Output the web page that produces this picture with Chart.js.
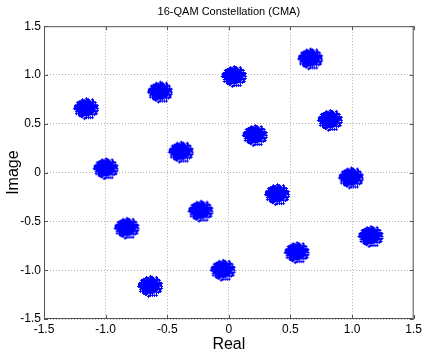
<!DOCTYPE html>
<html>
<head>
<meta charset="utf-8">
<script src="https://cdn.jsdelivr.net/npm/chart.js@4.4.1/dist/chart.umd.min.js"></script>
<style>
  html, body { margin: 0; padding: 0; background: #fff; }
  #wrap { position: relative; width: 425px; height: 355px; }
</style>
</head>
<body>
<div id="wrap"><canvas id="qam"></canvas></div>
<script>
// cluster centres
const realValues = [0.66, 0.04, -0.56, -1.16, 0.82, 0.21, -0.39, -1.00,
                    0.99, 0.39, -0.23, -0.83, 1.15, 0.55, -0.05, -0.64];
const imagValues = [1.17, 0.99, 0.83, 0.66, 0.54, 0.385, 0.215, 0.045,
                    -0.05, -0.22, -0.39, -0.565, -0.65, -0.815, -0.995, -1.16];
const tickValues = [-1.5, -1, -0.5, 0, 0.5, 1, 1.5];

const BLUE = "#0000ff";
const FONT = "'Liberation Sans', Arial, sans-serif";

// marker: a dense blob of "+" marks with a ragged rim
function makeBlob() {
  const c = document.createElement("canvas");
  c.width = 30; c.height = 26;
  const g = c.getContext("2d");
  g.fillStyle = BLUE;
  g.beginPath();
  g.ellipse(15, 13, 10, 8.5, 0, 0, Math.PI * 2);
  g.fill();
  g.strokeStyle = BLUE;
  g.lineWidth = 1;
  const rim = [1.05, 1.15, 1.0, 1.2, 1.1, 0.98, 1.25, 1.08, 1.12, 1.0, 1.18, 1.04];
  for (let k = 0; k < 36; k++) {
    const t = k / 36 * Math.PI * 2;
    const m = rim[k % rim.length];
    const x = Math.round(15 + Math.cos(t) * 10 * m);
    const y = Math.round(13 + Math.sin(t) * 8.5 * m);
    g.beginPath();
    g.moveTo(x - 1, y + 0.5); g.lineTo(x + 2, y + 0.5);
    g.moveTo(x + 0.5, y - 1); g.lineTo(x + 0.5, y + 2);
    g.stroke();
  }
  return c;
}
const blob = makeBlob();

// small inward tick marks on all four sides, like the original axes box
const innerTicks = {
  id: "innerTicks",
  afterDraw(chart) {
    const { ctx, chartArea: a, scales } = chart;
    ctx.save();
    ctx.strokeStyle = "#555";
    ctx.lineWidth = 1;
    ctx.beginPath();
    tickValues.forEach(v => {
      const x = Math.round(scales.x.getPixelForValue(v)) + 0.5;
      ctx.moveTo(x, a.bottom); ctx.lineTo(x, a.bottom - 4);
      ctx.moveTo(x, a.top); ctx.lineTo(x, a.top + 4);
      const y = Math.round(scales.y.getPixelForValue(v)) + 0.5;
      ctx.moveTo(a.left, y); ctx.lineTo(a.left + 4, y);
      ctx.moveTo(a.right, y); ctx.lineTo(a.right - 4, y);
    });
    ctx.stroke();
    ctx.strokeRect(a.left + 0.5, a.top + 0.5, a.right - a.left - 1, a.bottom - a.top - 1);
    ctx.restore();
  }
};

const gridStyle = {
  color: "#b0b0b0",
  lineWidth: 1,
  drawTicks: false
};

new Chart(document.getElementById("qam"), {
  type: "scatter",
  data: {
    datasets: [{
      data: realValues.map((x, i) => ({ x: x, y: imagValues[i] })),
      pointStyle: blob,
      backgroundColor: BLUE,
      borderColor: BLUE
    }]
  },
  options: {
    responsive: true,
    maintainAspectRatio: false,
    animation: false,
    layout: { padding: { left: 0, right: 8, top: 0, bottom: 0 } },
    plugins: {
      legend: { display: false },
      tooltip: { enabled: false },
      title: {
        display: true,
        text: "16-QAM Constellation (CMA)",
        fullSize: false,
        color: "#000",
        font: { family: FONT, size: 11, weight: "normal" },
        padding: { top: 5, bottom: 8 }
      }
    },
    scales: {
      x: {
        type: "linear",
        min: -1.5, max: 1.5,
        afterBuildTicks: s => { s.ticks = tickValues.map(v => ({ value: v })); },
        afterFit: s => { s.height = 36; },
        ticks: {
          color: "#000",
          font: { family: FONT, size: 12 },
          padding: 3,
          maxRotation: 0,
          autoSkip: false
        },
        grid: gridStyle,
        border: { display: false, dash: [1, 2] },
        title: {
          display: true,
          text: "Real",
          color: "#000",
          font: { family: FONT, size: 16 },
          padding: { top: 0, bottom: 1 }
        }
      },
      y: {
        type: "linear",
        min: -1.5, max: 1.5,
        afterBuildTicks: s => { s.ticks = tickValues.map(v => ({ value: v })); },
        afterFit: s => { s.width = 44; },
        ticks: {
          color: "#000",
          font: { family: FONT, size: 12 },
          padding: 3,
          autoSkip: false
        },
        grid: gridStyle,
        border: { display: false, dash: [1, 2] },
        title: {
          display: true,
          text: "Image",
          color: "#000",
          font: { family: FONT, size: 16 },
          padding: { top: 4, bottom: 0 }
        }
      }
    }
  },
  plugins: [innerTicks]
});
</script>
</body>
</html>
